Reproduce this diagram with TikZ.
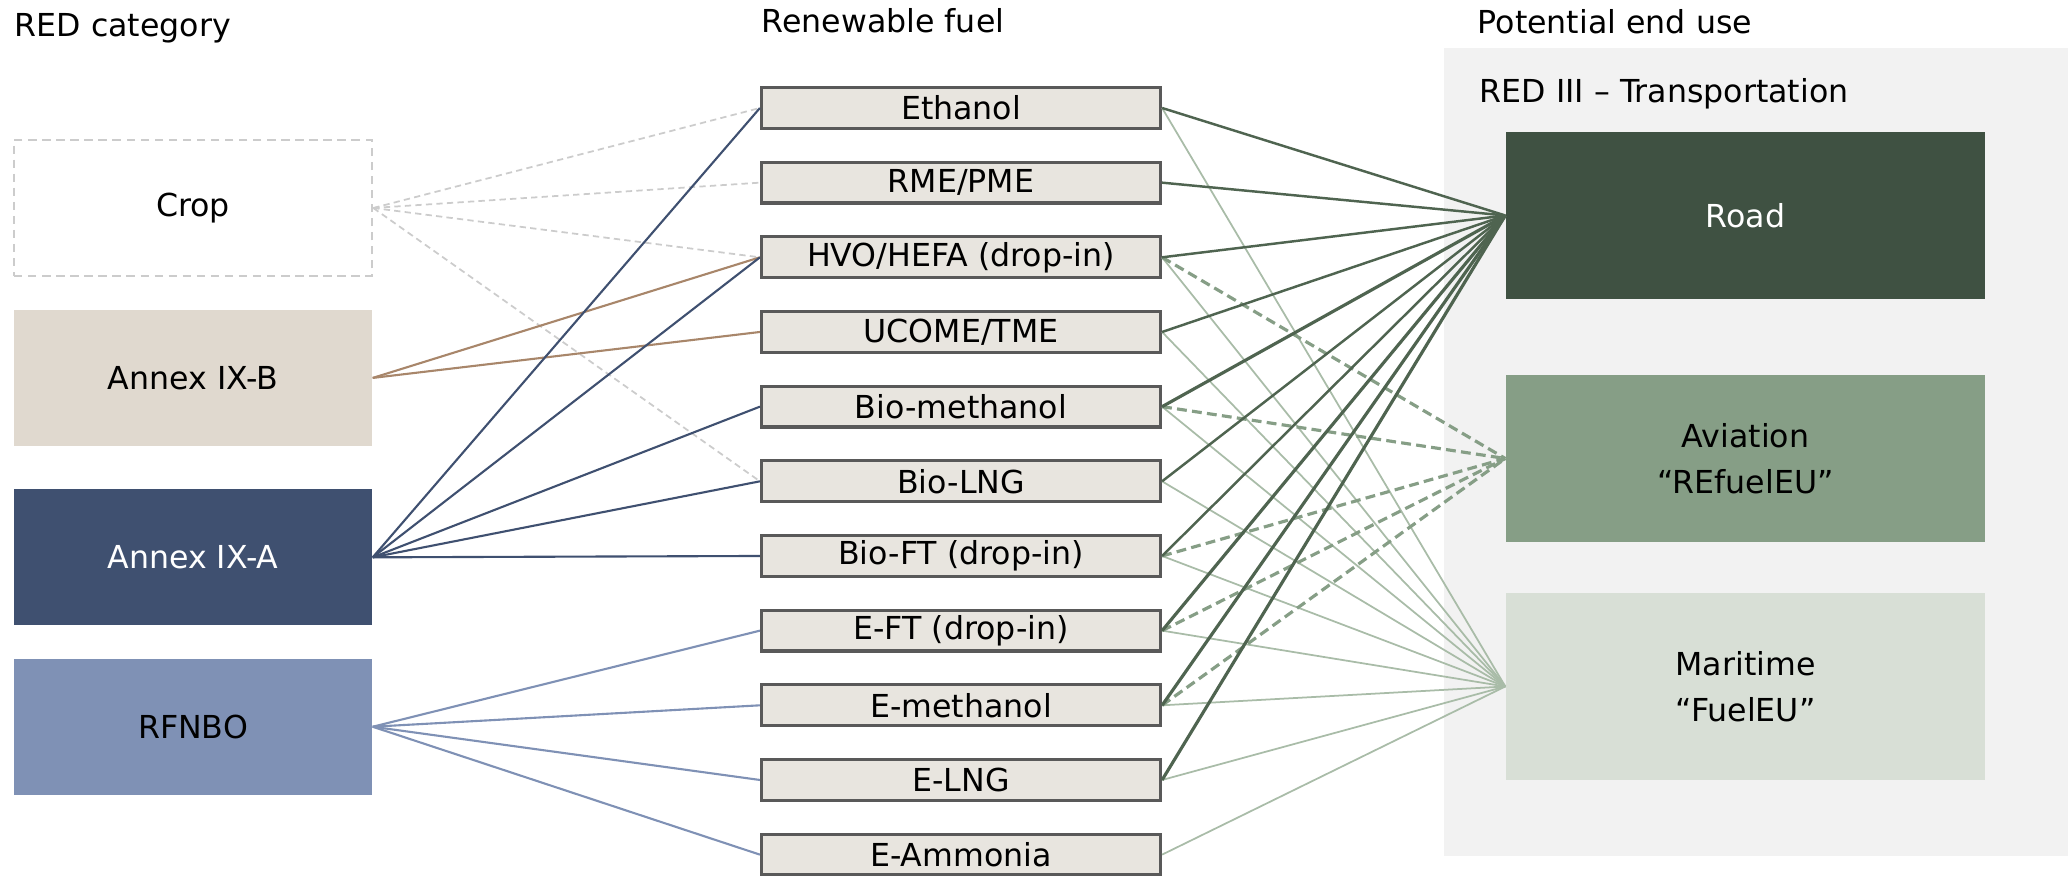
\documentclass[tikz,border=0pt]{standalone}
\usepackage{fontspec}
\setmainfont{DejaVu Sans}
\usetikzlibrary{positioning}

\definecolor{panelgray}{HTML}{F2F2F2}
\definecolor{cropgray}{HTML}{CCCCCC}
\definecolor{annexbfill}{HTML}{E0D9CF}
\definecolor{annexbline}{HTML}{A8866A}
\definecolor{annexafill}{HTML}{3F5070}
\definecolor{rfnbofill}{HTML}{7F91B5}
\definecolor{fuelfill}{HTML}{E8E5DF}
\definecolor{fuelborder}{HTML}{595959}
\definecolor{roadfill}{HTML}{3F5142}
\definecolor{roadline}{HTML}{4F6450}
\definecolor{aviationfill}{HTML}{869E86}
\definecolor{maritimefill}{HTML}{D8DFD6}
\definecolor{maritimeline}{HTML}{A9BCA8}

\begin{document}
\begin{tikzpicture}[font=\fontsize{9}{13.2}\selectfont]
    % Define styles
    \tikzstyle{category}=[rectangle, inner sep=0pt, minimum width=3.58cm, minimum height=1.36cm]
    \tikzstyle{fuel}=[rectangle, draw=fuelborder, line width=0.9pt, fill=fuelfill, inner sep=0pt, minimum width=3.99cm, minimum height=0.408cm]
    \tikzstyle{enduse}=[rectangle, inner sep=0pt, minimum width=4.79cm, minimum height=1.67cm, align=center]
    \tikzstyle{heading}=[anchor=base west, inner sep=0pt]
    \tikzstyle{croplink}=[draw=cropgray, line width=0.5pt, dash pattern=on 1.8pt off 1.2pt]
    \tikzstyle{roadlink}=[draw=roadline, line width=0.7pt]
    \tikzstyle{aviationlink}=[draw=aviationfill, line width=0.9pt, dash pattern=on 2.8pt off 1.5pt]
    \tikzstyle{maritimelink}=[draw=maritimeline, line width=0.5pt]

    \useasboundingbox (0,0) rectangle (20.68,-8.76);

    % Background of the end use column
    \node[rectangle, fill=panelgray, inner sep=0pt, minimum width=6.24cm, minimum height=8.08cm] (panel) at (17.56,-4.52) {};

    % Headings
    \node[heading] (redcat) at (0.14,-0.37) {RED category};
    \node[heading] (fuelhead) at (7.61,-0.33) {Renewable fuel};
    \node[heading] (endhead) at (14.77,-0.34) {Potential end use};
    \node[heading] (redthree) at (14.79,-1.03) {RED III -- Transportation};

    % RED categories
    \node[category, draw=cropgray, line width=0.7pt, dash pattern=on 2.4pt off 1.6pt] (crop) at (1.93,-2.08) {Crop};
    \node[category, fill=annexbfill] (annexb) [below=0.32cm of crop] {Annex IX-B};
    \node[category, fill=annexafill, text=white] (annexa) [below=0.42cm of annexb] {Annex IX-A};
    \node[category, fill=rfnbofill] (rfnbo) [below=0.32cm of annexa] {RFNBO};

    % Renewable fuels
    \node[fuel] (ethanol) at (9.61,-1.08) {Ethanol};
    \node[fuel] (rme) [below=0.307cm of ethanol] {RME/PME};
    \node[fuel] (hvo) [below=0.307cm of rme] {HVO/HEFA (drop-in)};
    \node[fuel] (ucome) [below=0.307cm of hvo] {UCOME/TME};
    \node[fuel] (biomethanol) [below=0.307cm of ucome] {Bio-methanol};
    \node[fuel] (biolng) [below=0.307cm of biomethanol] {Bio-LNG};
    \node[fuel] (bioft) [below=0.307cm of biolng] {Bio-FT (drop-in)};
    \node[fuel] (eft) [below=0.307cm of bioft] {E-FT (drop-in)};
    \node[fuel] (emethanol) [below=0.307cm of eft] {E-methanol};
    \node[fuel] (elng) [below=0.307cm of emethanol] {E-LNG};
    \node[fuel] (eammonia) [below=0.307cm of elng] {E-Ammonia};

    % End uses
    \node[enduse, fill=roadfill, text=white] (road) at (17.455,-2.155) {Road};
    \node[enduse, fill=aviationfill] (aviation) at (17.455,-4.585) {Aviation\\“REfuelEU”};
    \node[enduse, fill=maritimefill, minimum height=1.87cm] (maritime) at (17.455,-6.865) {Maritime\\“FuelEU”};

    % Crop links
    \draw[croplink] (crop.east) -- (ethanol.west);
    \draw[croplink] (crop.east) -- (rme.west);
    \draw[croplink] (crop.east) -- (hvo.west);
    \draw[croplink] (crop.east) -- (biolng.west);

    % Annex IX-B links
    \draw[annexbline, line width=0.6pt] (annexb.east) -- (hvo.west);
    \draw[annexbline, line width=0.6pt] (annexb.east) -- (ucome.west);

    % Annex IX-A links
    \draw[annexafill, line width=0.6pt] (annexa.east) -- (ethanol.west);
    \draw[annexafill, line width=0.6pt] (annexa.east) -- (hvo.west);
    \draw[annexafill, line width=0.6pt] (annexa.east) -- (biomethanol.west);
    \draw[annexafill, line width=0.6pt] (annexa.east) -- (biolng.west);
    \draw[annexafill, line width=0.6pt] (annexa.east) -- (bioft.west);

    % RFNBO links
    \draw[rfnbofill, line width=0.6pt] (rfnbo.east) -- (eft.west);
    \draw[rfnbofill, line width=0.6pt] (rfnbo.east) -- (emethanol.west);
    \draw[rfnbofill, line width=0.6pt] (rfnbo.east) -- (elng.west);
    \draw[rfnbofill, line width=0.6pt] (rfnbo.east) -- (eammonia.west);

    % Maritime links
    \draw[maritimelink] (ethanol.east) -- (maritime.west);
    \draw[maritimelink] (hvo.east) -- (maritime.west);
    \draw[maritimelink] (ucome.east) -- (maritime.west);
    \draw[maritimelink] (biomethanol.east) -- (maritime.west);
    \draw[maritimelink] (biolng.east) -- (maritime.west);
    \draw[maritimelink] (bioft.east) -- (maritime.west);
    \draw[maritimelink] (eft.east) -- (maritime.west);
    \draw[maritimelink] (emethanol.east) -- (maritime.west);
    \draw[maritimelink] (elng.east) -- (maritime.west);
    \draw[maritimelink] (eammonia.east) -- (maritime.west);

    % Aviation links
    \draw[aviationlink] (hvo.east) -- (aviation.west);
    \draw[aviationlink] (biomethanol.east) -- (aviation.west);
    \draw[aviationlink] (bioft.east) -- (aviation.west);
    \draw[aviationlink] (eft.east) -- (aviation.west);
    \draw[aviationlink] (emethanol.east) -- (aviation.west);

    % Road links
    \draw[roadlink] (ethanol.east) -- (road.west);
    \draw[roadlink] (rme.east) -- (road.west);
    \draw[roadlink] (hvo.east) -- (road.west);
    \draw[roadlink] (ucome.east) -- (road.west);
    \draw[roadlink, line width=0.9pt] (biomethanol.east) -- (road.west);
    \draw[roadlink] (biolng.east) -- (road.west);
    \draw[roadlink] (bioft.east) -- (road.west);
    \draw[roadlink, line width=0.9pt] (eft.east) -- (road.west);
    \draw[roadlink, line width=0.9pt] (emethanol.east) -- (road.west);
    \draw[roadlink, line width=0.9pt] (elng.east) -- (road.west);
\end{tikzpicture}
\end{document}
